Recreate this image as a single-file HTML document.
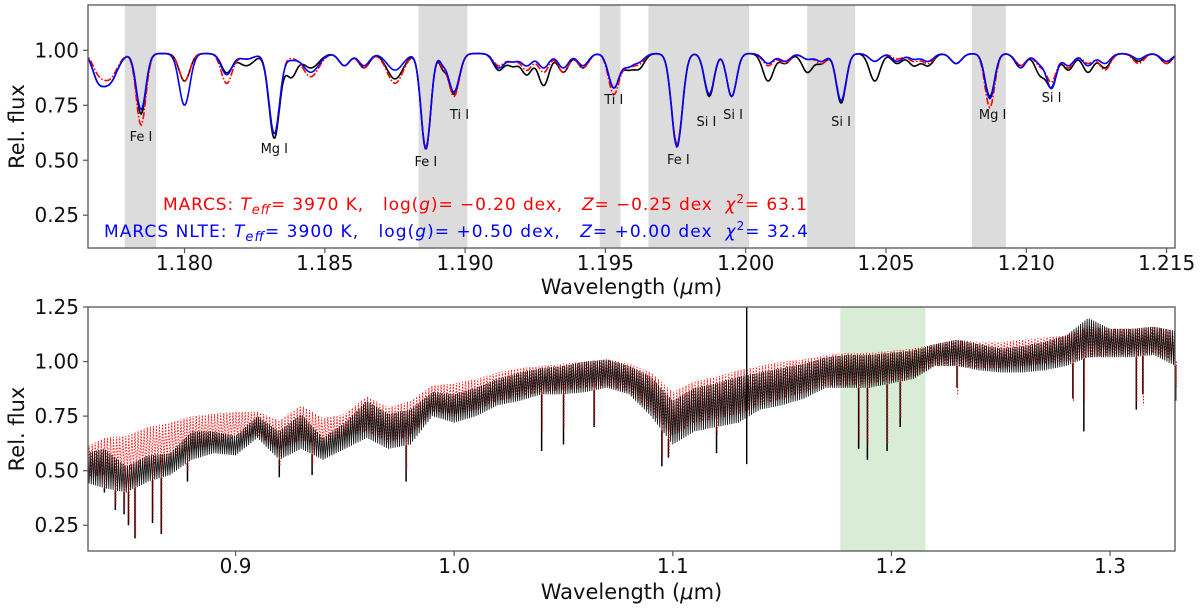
<!DOCTYPE html>
<html><head><meta charset="utf-8"><style>
html,body{margin:0;padding:0;background:#fff;}
svg{display:block;font-family:"DejaVu Sans","Liberation Sans",sans-serif;}
.pre{white-space:pre;}
</style></head><body>
<svg id="fig" width="1200" height="608" viewBox="0 0 1200 608" xmlns="http://www.w3.org/2000/svg">
<g id="top"></g>
<g id="bot"></g>
</svg>
<script>
// ---------- TOP PANEL DATA ----------
const topBands = [[1.17787,1.17899],[1.18834,1.19008],[1.19480,1.19554],[1.19653,1.20012],[1.20219,1.20390],[1.20806,1.20927]];
const lineCenters = [1.1769,1.1773,1.17845,1.1800,1.1815,1.1822,1.1832,1.1838,1.1845,1.1857,1.1864,1.1875,1.1886,1.1892,1.1896,1.1912,1.1917,1.1922,1.1928,1.1935,1.1942,1.1953,1.1958,1.1962,1.19755,1.1987,1.1995,1.2008,1.2014,1.2022,1.2027,1.2034,1.2046,1.2054,1.2060,1.2065,1.2075,1.2087,1.2098,1.2105,1.2109,1.2115,1.2122,1.2128,1.2140,1.2150];
const lineWidths = [0.0002,0.0003,0.00018,0.0002,0.0002,0.0003,0.0002,0.0002,0.0003,0.0002,0.0002,0.0003,0.00018,0.00012,0.0002,0.0002,0.0002,0.0002,0.0002,0.0002,0.0002,0.0002,0.0002,0.0002,0.0002,0.00018,0.00018,0.0002,0.0002,0.0002,0.0002,0.00018,0.0002,0.0002,0.0002,0.0002,0.0002,0.00018,0.0002,0.0002,0.00018,0.0002,0.0002,0.0002,0.0002,0.0002];
const observedMin = [0.90,0.85,0.71,0.86,0.90,0.93,0.60,0.88,0.92,0.93,0.92,0.87,0.55,0.93,0.80,0.91,0.93,0.89,0.84,0.90,0.92,0.83,0.92,0.92,0.57,0.79,0.79,0.86,0.94,0.90,0.94,0.76,0.86,0.94,0.93,0.93,0.94,0.79,0.93,0.89,0.84,0.91,0.90,0.92,0.95,0.94];
const marcsMin    = [0.93,0.87,0.66,0.86,0.85,0.96,0.62,0.97,0.88,0.93,0.92,0.85,0.56,0.94,0.79,0.93,0.95,0.91,0.90,0.90,0.92,0.80,0.93,0.94,0.57,0.80,0.79,0.93,0.94,0.96,0.94,0.77,0.95,0.96,0.95,0.94,0.94,0.74,0.93,0.93,0.86,0.92,0.94,0.91,0.94,0.94];
const nlteMin     = [0.90,0.85,0.73,0.75,0.89,0.96,0.62,0.96,0.90,0.93,0.93,0.91,0.55,0.95,0.81,0.92,0.95,0.93,0.92,0.92,0.93,0.83,0.93,0.95,0.56,0.80,0.79,0.94,0.95,0.96,0.95,0.77,0.95,0.95,0.96,0.95,0.94,0.78,0.92,0.94,0.83,0.93,0.93,0.94,0.96,0.95];
const topLabels = [["Fe I",1.17845,136],["Mg I",1.1832,148],["Fe I",1.1886,161],["Ti I",1.1898,114],["Ti I",1.1953,99],["Fe I",1.1976,159],["Si I",1.1986,121],["Si I",1.19955,114],["Si I",1.2034,121],["Mg I",1.2088,114],["Si I",1.2109,97]];
const topXTicks = [1.180,1.185,1.190,1.195,1.200,1.205,1.210,1.215];
const topYTicks = [0.25,0.50,0.75,1.00];

// ---------- BOTTOM PANEL DATA ----------
const botGrid = [0.83,0.84,0.85,0.86,0.87,0.88,0.89,0.90,0.91,0.92,0.93,0.94,0.95,0.96,0.97,0.98,0.99,1.00,1.01,1.02,1.03,1.04,1.05,1.06,1.07,1.08,1.09,1.10,1.11,1.12,1.13,1.14,1.15,1.16,1.17,1.18,1.19,1.20,1.21,1.22,1.23,1.24,1.25,1.26,1.27,1.28,1.29,1.30,1.31,1.32,1.33];
const obsLower = [0.45,0.42,0.40,0.45,0.48,0.55,0.58,0.57,0.65,0.55,0.60,0.55,0.60,0.65,0.60,0.62,0.75,0.72,0.75,0.80,0.82,0.85,0.85,0.86,0.88,0.85,0.75,0.62,0.68,0.70,0.72,0.78,0.80,0.83,0.88,0.88,0.88,0.90,0.92,0.98,0.98,0.96,0.95,0.95,0.96,0.98,1.02,1.02,1.02,1.03,0.98];
const obsUpper = [0.58,0.60,0.52,0.57,0.58,0.68,0.68,0.66,0.75,0.68,0.76,0.65,0.72,0.82,0.76,0.78,0.86,0.85,0.88,0.92,0.95,0.97,0.98,1.00,1.01,0.98,0.93,0.82,0.88,0.90,0.93,0.95,0.97,0.99,1.02,1.03,1.03,1.04,1.05,1.08,1.10,1.08,1.06,1.07,1.09,1.12,1.20,1.15,1.15,1.16,1.14];
const modLower = [0.47,0.48,0.50,0.52,0.55,0.60,0.62,0.65,0.66,0.60,0.64,0.62,0.66,0.68,0.63,0.66,0.77,0.76,0.78,0.82,0.84,0.86,0.87,0.88,0.89,0.86,0.77,0.66,0.72,0.74,0.76,0.80,0.83,0.86,0.89,0.89,0.90,0.91,0.93,0.98,0.98,0.97,0.97,0.98,0.99,1.00,1.02,1.03,1.03,1.04,1.00];
const modUpper = [0.60,0.65,0.66,0.70,0.72,0.75,0.76,0.77,0.77,0.73,0.80,0.74,0.76,0.84,0.79,0.82,0.89,0.90,0.92,0.95,0.97,0.98,0.99,1.00,1.01,0.99,0.95,0.86,0.91,0.93,0.96,0.98,1.00,1.01,1.03,1.04,1.04,1.05,1.06,1.08,1.10,1.09,1.09,1.10,1.11,1.12,1.16,1.15,1.15,1.16,1.14];
const deepLines = [0.840,0.845,0.849,0.851,0.854,0.862,0.866,0.878,0.920,0.935,0.978,1.040,1.050,1.064,1.095,1.098,1.120,1.185,1.189,1.198,1.204,1.230,1.283,1.288,1.312,1.315,1.330];
const deepObs   = [0.40,0.32,0.30,0.25,0.19,0.26,0.21,0.45,0.47,0.48,0.45,0.59,0.62,0.70,0.52,0.56,0.58,0.60,0.55,0.59,0.70,0.88,0.83,0.68,0.78,0.85,0.82];
const deepMod   = [0.42,0.34,0.32,0.26,0.19,0.28,0.22,0.50,0.52,0.52,0.50,0.68,0.70,0.72,0.55,0.58,0.66,0.64,0.62,0.62,0.74,0.85,0.82,0.82,0.82,0.80,0.88];
const spikeWl = [1.1338];
const spikeRange = [[0.53,1.25]];
const botXTicks = [0.9,1.0,1.1,1.2,1.3];
const botYTicks = [0.25,0.50,0.75,1.00,1.25];
const greenBand = [1.1766,1.2155];

// ---------- helpers ----------
const NS="http://www.w3.org/2000/svg";
function mk(tag,attrs,parent){const e=document.createElementNS(NS,tag);for(const k in attrs)e.setAttribute(k,attrs[k]);parent.appendChild(e);return e;}
function lin(d0,d1,r0,r1){return v=>r0+(v-d0)/(d1-d0)*(r1-r0);}
function interp(xs,ys,x){if(x<=xs[0])return ys[0];for(let i=1;i<xs.length;i++){if(x<=xs[i]){const t=(x-xs[i-1])/(xs[i]-xs[i-1]);return ys[i-1]+t*(ys[i]-ys[i-1]);}}return ys[ys.length-1];}

function axes(g,L,T,R,B,xs,ys,xt,yt,fmtX,fmtY,tickY,labelY,name){
  const fr=mk('rect',{x:L,y:T,width:R-L,height:B-T,fill:'none',stroke:'#555','stroke-width':1.3},g);
  
  
  xt.forEach(v=>{const x=xs(v);
    const t=mk('line',{x1:x,x2:x,y1:B,y2:B+5,stroke:'#555','stroke-width':1.2},g);
    
    
    const tx=mk('text',{x:x,y:tickY,'font-size':20,'text-anchor':'middle',fill:'#111'},g);tx.textContent=fmtX(v);
    
    });
  yt.forEach(v=>{const y=ys(v);
    const t=mk('line',{x1:L-5,x2:L,y1:y,y2:y,stroke:'#555','stroke-width':1.2},g);
    
    
    const tx=mk('text',{x:L-9,y:y+7,'font-size':20,'text-anchor':'end',fill:'#111'},g);tx.textContent=fmtY(v);
    
    });
  const yl=mk('text',{x:0,y:0,'font-size':21,'text-anchor':'middle',fill:'#111',transform:`translate(24,${(T+B)/2}) rotate(-90)`},g);
  yl.textContent='Rel. flux';
  
  
  const xl=mk('text',{x:(L+R)/2,y:labelY,'font-size':21,'text-anchor':'middle',fill:'#111'},g);
  xl.innerHTML='Wavelength (<tspan font-style="italic">μ</tspan>m)';
  
  
}

// ---------- TOP ----------
(function(){
  const g=document.getElementById('top');
  const L=88,R=1175,T=5,B=248;
  const xs=lin(1.17656,1.2153,L,R), ys=lin(0.101,1.206,B,T);
  const cpp=mk('clipPath',{id:'ct'},g);mk('rect',{x:L,y:T,width:R-L,height:B-T},cpp);
  topBands.forEach(b=>{const r=mk('rect',{x:xs(b[0]),y:T,width:xs(b[1])-xs(b[0]),height:B-T,fill:'#dcdcdc'},g);
    
    });
  function spec(mins){const pts=[];for(let x=1.1763;x<=1.2156;x+=0.00004){let f=0.985;
      for(let i=0;i<lineCenters.length;i++){const d=1-mins[i]/0.985;const u=(x-lineCenters[i])/(lineWidths[i]*1.35);f*=1-d*Math.exp(-u*u);}
      pts.push(xs(x).toFixed(1)+','+ys(f).toFixed(1));}return pts.join(' ');}
  const s1=mk('polyline',{points:spec(observedMin),fill:'none',stroke:'#000','stroke-width':1.6,'clip-path':'url(#ct)'},g);
  
  
  const s2=mk('polyline',{points:spec(marcsMin),fill:'none',stroke:'#f00','stroke-width':1.6,'stroke-dasharray':'7,2,1.5,2','clip-path':'url(#ct)'},g);
  
  
  const s3=mk('polyline',{points:spec(nlteMin),fill:'none',stroke:'#00f','stroke-width':1.6,'clip-path':'url(#ct)'},g);
  
  
  topLabels.forEach(l=>{const t=mk('text',{x:xs(l[1]),y:l[2]+5,'font-size':13,'text-anchor':'middle',fill:'#111'},g);t.textContent=l[0];
    
    });
  const r=mk('text',{x:163,y:210,'font-size':17,fill:'#f00','class':'pre',textLength:644,lengthAdjust:'spacing'},g);
  r.innerHTML='MARCS: <tspan font-style="italic">T</tspan><tspan font-style="italic" font-size="13" dy="4">eff</tspan><tspan dy="-4">= 3970 K,   log(</tspan><tspan font-style="italic">g</tspan>)= −0.20 dex,   <tspan font-style="italic">Z</tspan>= −0.25 dex  <tspan font-style="italic">χ</tspan><tspan font-size="12" dy="-7">2</tspan><tspan dy="7">= 63.1</tspan>';
  
  
  const bl=mk('text',{x:104,y:237,'font-size':17,fill:'#00f','class':'pre',textLength:704,lengthAdjust:'spacing'},g);
  bl.innerHTML='MARCS NLTE: <tspan font-style="italic">T</tspan><tspan font-style="italic" font-size="13" dy="4">eff</tspan><tspan dy="-4">= 3900 K,   log(</tspan><tspan font-style="italic">g</tspan>)= +0.50 dex,   <tspan font-style="italic">Z</tspan>= +0.00 dex  <tspan font-style="italic">χ</tspan><tspan font-size="12" dy="-7">2</tspan><tspan dy="7">= 32.4</tspan>';
  
  
  axes(g,L,T,R,B,xs,ys,topXTicks,topYTicks,v=>v.toFixed(3),v=>v.toFixed(2),270,294,'top');
})();

// ---------- BOTTOM ----------
(function(){
  const g=document.getElementById('bot');
  const L=88,R=1175,T=307,B=551;
  const xs=lin(0.8325,1.3297,L,R), ys=lin(0.132,1.25,B,T);
  const cp=mk('clipPath',{id:'cb'},g);mk('rect',{x:L,y:T,width:R-L,height:B-T},cp);
  const gb=mk('rect',{x:xs(greenBand[0]),y:T,width:xs(greenBand[1])-xs(greenBand[0]),height:B-T,fill:'#d8ecd6'},g);
  
  
  function zig(lo,hi,step,ph){const p=[];let k=0;for(let x=0.832+ph;x<=1.3305;x+=step,k++){
      const v=interp(botGrid,(k%2?hi:lo),x);p.push(xs(x).toFixed(2)+','+ys(v).toFixed(1));}return p.join(' ');}
  const md=mk('polyline',{points:zig(modLower,modUpper,0.0007,0.0003),fill:'none',stroke:'#f00','stroke-width':1,'stroke-dasharray':'1.5,1.5','opacity':0.9,'clip-path':'url(#cb)'},g);
  
  
  const ob=mk('polyline',{points:zig(obsLower,obsUpper,0.0005,0),fill:'none',stroke:'#000','stroke-width':0.9,'opacity':0.9,'clip-path':'url(#cb)'},g);
  
  
  deepLines.forEach((w,i)=>{const x=xs(w);const l=mk('line',{x1:x,x2:x,y1:ys(interp(botGrid,obsLower,w)),y2:ys(deepObs[i]),stroke:'#000','stroke-width':1.5},g);
    
    });
  spikeWl.forEach((w,i)=>{const l=mk('line',{x1:xs(w),x2:xs(w),y1:ys(spikeRange[i][0]),y2:ys(spikeRange[i][1]),stroke:'#000','stroke-width':1.4},g);
    
    });
  deepLines.forEach((w,i)=>{const x=xs(w)+0.6;const l=mk('line',{x1:x,x2:x,y1:ys(interp(botGrid,modLower,w)),y2:ys(deepMod[i]),stroke:'#f00','stroke-width':1.1,'stroke-dasharray':'1.5,1.5'},g);
    
    });
  axes(g,L,T,R,B,xs,ys,botXTicks,botYTicks,v=>v.toFixed(1),v=>v.toFixed(2),573,599,'bottom');
})();
</script>
</body></html>
